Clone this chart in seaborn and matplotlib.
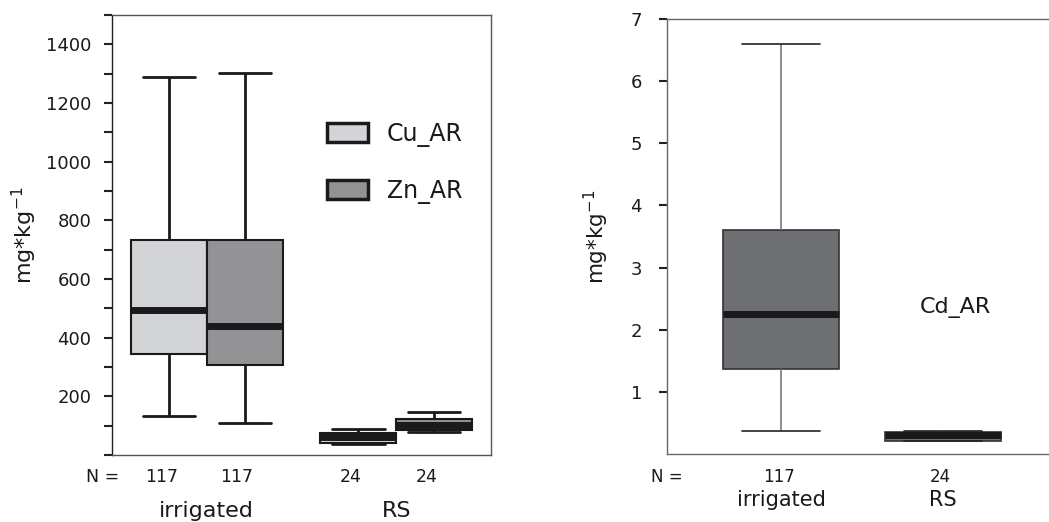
import numpy as np
import pandas as pd
import matplotlib
matplotlib.use("Agg")
import matplotlib.pyplot as plt
import seaborn as sns

# five-number summaries: [min, Q1, median, Q3, max]
groups = ["irrigated", "RS"]
cu_irrigated = [134, 343, 495, 732, 1288]
cu_rs = [38, 42, 60, 75, 88]
zn_irrigated = [109, 306, 439, 732, 1303]
zn_rs = [77, 86, 103, 122, 145]
cd_irrigated = [0.37, 1.37, 2.26, 3.60, 6.59]
cd_rs = [0.21, 0.215, 0.30, 0.36, 0.376]

n_left = [117, 117, 24, 24]   # Cu irr, Zn irr, Cu RS, Zn RS
n_right = [117, 24]

left_ticks = list(range(0, 1501, 100))
left_labels = [str(t) if (t % 200 == 0 and 200 <= t <= 1400) else "" for t in left_ticks]
right_ticks = [1, 2, 3, 4, 5, 6, 7]

cu_color = "#d3d4d6"
zn_color = "#939396"
cd_color = "#6e6f72"

rows = []
for g, vals in zip(groups, [cu_irrigated, cu_rs]):
    rows += [(g, "Cu_AR", v) for v in vals]
for g, vals in zip(groups, [zn_irrigated, zn_rs]):
    rows += [(g, "Zn_AR", v) for v in vals]
metals = pd.DataFrame(rows, columns=["site", "metal", "value"])

cd = pd.DataFrame([(g, v) for g, vals in zip(groups, [cd_irrigated, cd_rs]) for v in vals],
                  columns=["site", "value"])

sns.set_style("white")
plt.rcParams["font.family"] = ["DejaVu Sans"]
plt.rcParams["text.color"] = "#1a1a1a"
plt.rcParams["axes.labelcolor"] = "#1a1a1a"
plt.rcParams["xtick.color"] = "#1a1a1a"
plt.rcParams["ytick.color"] = "#1a1a1a"

fig = plt.figure(figsize=(10.49, 5.22), dpi=100)
ax1 = fig.add_axes([0.1068, 0.1284, 0.3613, 0.8429])
ax2 = fig.add_axes([0.6358, 0.1303, 0.38, 0.8333])


def widen_caps(ax, factor, median_lw):
    for ln in ax.lines:
        x, y = ln.get_xdata(), ln.get_ydata()
        if len(x) == 2 and y[0] == y[1] and ln.get_linewidth() != median_lw:
            c = (x[0] + x[1]) / 2
            ln.set_xdata([c + (x[0] - c) * factor, c + (x[1] - c) * factor])


# left panel: Cu and Zn
sns.boxplot(data=metals, x="site", y="value", hue="metal", order=groups,
            palette={"Cu_AR": cu_color, "Zn_AR": zn_color}, saturation=1,
            width=0.8, gap=0, whis=(0, 100), linecolor="#1a1a1c", linewidth=2,
            medianprops={"linewidth": 5, "color": "#1a1a1c"},
            boxprops={"linewidth": 1.5}, ax=ax1)
widen_caps(ax1, 1.38, 5)
ax1.set_xlim(-0.5, 1.5)
ax1.set_ylim(0, 1500)
ax1.set_yticks(left_ticks)
ax1.set_yticklabels(left_labels, fontsize=13)
ax1.set_ylabel("mg*kg$^{-1}$", fontsize=16, labelpad=5)
ax1.set_xlabel("")
ax1.set_xticks([0, 1])
ax1.set_xticklabels(groups, fontsize=16)
ax1.tick_params(axis="x", length=0, pad=33)
ax1.tick_params(axis="y", left=True, length=6, width=1.5, color="#222", pad=9)
for s in ax1.spines.values():
    s.set_color("#555")
    s.set_linewidth(1)
ax1.spines["left"].set_color("#222")

leg = ax1.legend(loc="upper left", bbox_to_anchor=(0.51, 0.805), frameon=False,
                 fontsize=17, handlelength=1.75, handleheight=0.85,
                 labelspacing=1.35, handletextpad=0.8)
for h in leg.legend_handles:
    h.set_edgecolor("#1a1a1c")
    h.set_linewidth(2.5)

left_pos = [-0.2, 0.2, 0.8, 1.2]
tr1 = ax1.get_xaxis_transform()
ax1.text(-0.548, -0.05, "N =", transform=tr1, ha="center", va="center", fontsize=12.5)
for x, n in zip(left_pos, n_left):
    ax1.text(x - 0.04, -0.05, str(n), transform=tr1, ha="center", va="center", fontsize=12.5)

# right panel: Cd
sns.boxplot(data=cd, x="site", y="value", order=groups, color=cd_color, saturation=1,
            width=0.72, whis=(0, 100), linecolor="#333", linewidth=1.2,
            medianprops={"linewidth": 5, "color": "#1a1a1c"},
            whiskerprops={"color": "#7a7a7a"}, capprops={"color": "#222"}, ax=ax2)
widen_caps(ax2, 1.34, 5)
ax2.set_xlim(-0.708, 1.76)
ax2.set_ylim(0, 7)
ax2.set_yticks(right_ticks)
ax2.set_yticklabels([str(t) for t in right_ticks], fontsize=13)
ax2.set_ylabel("mg*kg$^{-1}$", fontsize=15.5, labelpad=14)
ax2.set_xlabel("")
ax2.set_xticks([0, 1])
ax2.set_xticklabels(groups, fontsize=15)
ax2.tick_params(axis="x", length=0, pad=26)
ax2.tick_params(axis="y", left=True, length=6, width=1.5, color="#222", pad=12)
for s in ax2.spines.values():
    s.set_color("#666")
    s.set_linewidth(1)
ax2.spines["right"].set_visible(False)
ax2.text(1.08, 2.35, "Cd_AR", ha="center", va="center", fontsize=16)

tr2 = ax2.get_xaxis_transform()
ax2.text(-0.708, -0.054, "N =", transform=tr2, ha="center", va="center", fontsize=12)
for x, n in zip([0, 1], n_right):
    ax2.text(x - 0.015, -0.054, str(n), transform=tr2, ha="center", va="center", fontsize=12)

fig.savefig("out.png", dpi=100)
